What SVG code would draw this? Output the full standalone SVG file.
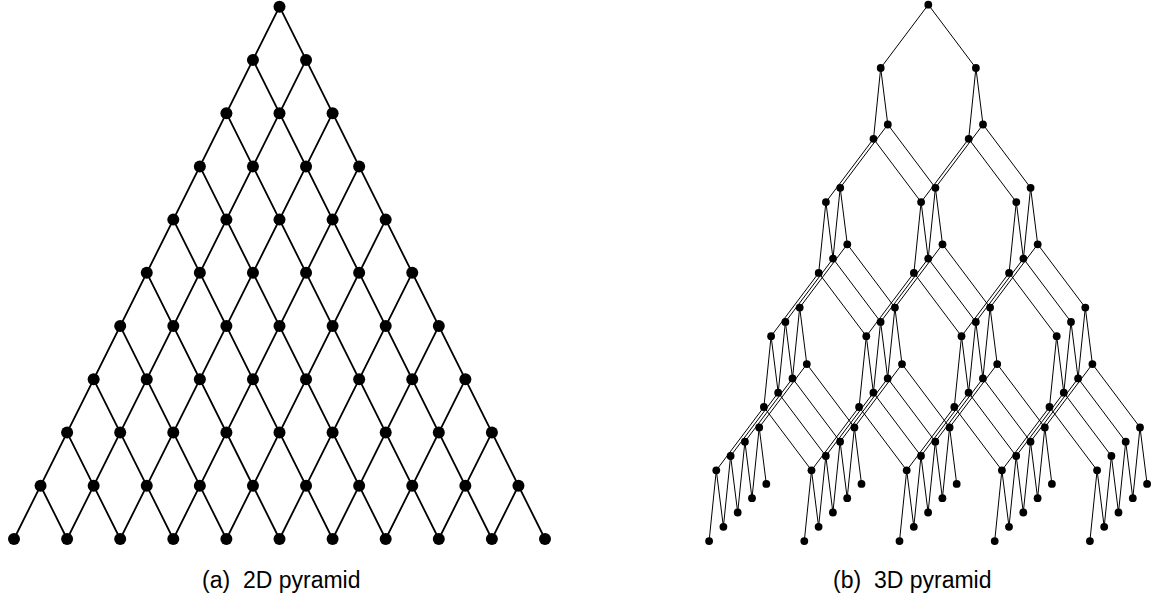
<svg xmlns="http://www.w3.org/2000/svg" width="1153" height="598" viewBox="0 0 1153 598">
<style>
.e2{fill:none;stroke:#000;stroke-width:1.8}
.e3{fill:none;stroke:#000;stroke-width:1}
.n2{fill:#000}
.n3{fill:#000}
.cap{font-family:"Liberation Sans",Arial,Helvetica,sans-serif;font-size:23px;fill:#000}
</style>
<rect width="1153" height="598" fill="#fff"/>
<g id="edges-2d" class="e2">
<path d="M279.5 6.7L14 539M306.05 59.93L67.1 539M332.6 113.16L120.2 539M359.15 166.39L173.3 539M385.7 219.62L226.4 539M412.25 272.85L279.5 539M438.8 326.08L332.6 539M465.35 379.31L385.7 539M491.9 432.54L438.8 539M518.45 485.77L491.9 539"/>
<path d="M279.5 6.7L545 539M252.95 59.93L491.9 539M226.4 113.16L438.8 539M199.85 166.39L385.7 539M173.3 219.62L332.6 539M146.75 272.85L279.5 539M120.2 326.08L226.4 539M93.65 379.31L173.3 539M67.1 432.54L120.2 539M40.55 485.77L67.1 539"/>
</g>
<g id="edges-3d" class="e3">
<polyline points="880.7,68 928.3,4.7 975.9,68"/>
<polyline points="825.9,202.1 873.5,138.8 921.1,202.1 968.7,138.8 1016.3,202.1"/>
<polyline points="840.2,187.8 887.8,124.5 935.4,187.8 983,124.5 1030.6,187.8"/>
<polyline points="771.1,336.2 818.7,272.9 866.3,336.2 913.9,272.9 961.5,336.2 1009.1,272.9 1056.7,336.2"/>
<polyline points="785.4,321.9 833,258.6 880.6,321.9 928.2,258.6 975.8,321.9 1023.4,258.6 1071,321.9"/>
<polyline points="799.7,307.6 847.3,244.3 894.9,307.6 942.5,244.3 990.1,307.6 1037.7,244.3 1085.3,307.6"/>
<polyline points="716.3,470.3 763.9,407 811.5,470.3 859.1,407 906.7,470.3 954.3,407 1001.9,470.3 1049.5,407 1097.1,470.3"/>
<polyline points="730.6,456 778.2,392.7 825.8,456 873.4,392.7 921,456 968.6,392.7 1016.2,456 1063.8,392.7 1111.4,456"/>
<polyline points="744.9,441.7 792.5,378.4 840.1,441.7 887.7,378.4 935.3,441.7 982.9,378.4 1030.5,441.7 1078.1,378.4 1125.7,441.7"/>
<polyline points="759.2,427.4 806.8,364.1 854.4,427.4 902,364.1 949.6,427.4 997.2,364.1 1044.8,427.4 1092.4,364.1 1140,427.4"/>
<polyline points="873.5,138.8 880.7,68 887.8,124.5"/>
<polyline points="968.7,138.8 975.9,68 983,124.5"/>
<polyline points="818.7,272.9 825.9,202.1 833,258.6 840.2,187.8 847.3,244.3"/>
<polyline points="913.9,272.9 921.1,202.1 928.2,258.6 935.4,187.8 942.5,244.3"/>
<polyline points="1009.1,272.9 1016.3,202.1 1023.4,258.6 1030.6,187.8 1037.7,244.3"/>
<polyline points="763.9,407 771.1,336.2 778.2,392.7 785.4,321.9 792.5,378.4 799.7,307.6 806.8,364.1"/>
<polyline points="859.1,407 866.3,336.2 873.4,392.7 880.6,321.9 887.7,378.4 894.9,307.6 902,364.1"/>
<polyline points="954.3,407 961.5,336.2 968.6,392.7 975.8,321.9 982.9,378.4 990.1,307.6 997.2,364.1"/>
<polyline points="1049.5,407 1056.7,336.2 1063.8,392.7 1071,321.9 1078.1,378.4 1085.3,307.6 1092.4,364.1"/>
<polyline points="709.1,541.1 716.3,470.3 723.4,526.8 730.6,456 737.7,512.5 744.9,441.7 752,498.2 759.2,427.4 766.3,483.9"/>
<polyline points="804.3,541.1 811.5,470.3 818.6,526.8 825.8,456 832.9,512.5 840.1,441.7 847.2,498.2 854.4,427.4 861.5,483.9"/>
<polyline points="899.5,541.1 906.7,470.3 913.8,526.8 921,456 928.1,512.5 935.3,441.7 942.4,498.2 949.6,427.4 956.7,483.9"/>
<polyline points="994.7,541.1 1001.9,470.3 1009,526.8 1016.2,456 1023.3,512.5 1030.5,441.7 1037.6,498.2 1044.8,427.4 1051.9,483.9"/>
<polyline points="1089.9,541.1 1097.1,470.3 1104.2,526.8 1111.4,456 1118.5,512.5 1125.7,441.7 1132.8,498.2 1140,427.4 1147.1,483.9"/>
</g>
<g id="nodes-2d" class="n2">
<g id="a0-0"><circle cx="279.5" cy="6.7" r="6"/></g>
<g id="a1-0"><circle cx="252.95" cy="59.93" r="6"/></g><g id="a1-1"><circle cx="306.05" cy="59.93" r="6"/></g>
<g id="a2-0"><circle cx="226.4" cy="113.16" r="6"/></g><g id="a2-1"><circle cx="279.5" cy="113.16" r="6"/></g><g id="a2-2"><circle cx="332.6" cy="113.16" r="6"/></g>
<g id="a3-0"><circle cx="199.85" cy="166.39" r="6"/></g><g id="a3-1"><circle cx="252.95" cy="166.39" r="6"/></g><g id="a3-2"><circle cx="306.05" cy="166.39" r="6"/></g><g id="a3-3"><circle cx="359.15" cy="166.39" r="6"/></g>
<g id="a4-0"><circle cx="173.3" cy="219.62" r="6"/></g><g id="a4-1"><circle cx="226.4" cy="219.62" r="6"/></g><g id="a4-2"><circle cx="279.5" cy="219.62" r="6"/></g><g id="a4-3"><circle cx="332.6" cy="219.62" r="6"/></g><g id="a4-4"><circle cx="385.7" cy="219.62" r="6"/></g>
<g id="a5-0"><circle cx="146.75" cy="272.85" r="6"/></g><g id="a5-1"><circle cx="199.85" cy="272.85" r="6"/></g><g id="a5-2"><circle cx="252.95" cy="272.85" r="6"/></g><g id="a5-3"><circle cx="306.05" cy="272.85" r="6"/></g><g id="a5-4"><circle cx="359.15" cy="272.85" r="6"/></g><g id="a5-5"><circle cx="412.25" cy="272.85" r="6"/></g>
<g id="a6-0"><circle cx="120.2" cy="326.08" r="6"/></g><g id="a6-1"><circle cx="173.3" cy="326.08" r="6"/></g><g id="a6-2"><circle cx="226.4" cy="326.08" r="6"/></g><g id="a6-3"><circle cx="279.5" cy="326.08" r="6"/></g><g id="a6-4"><circle cx="332.6" cy="326.08" r="6"/></g><g id="a6-5"><circle cx="385.7" cy="326.08" r="6"/></g><g id="a6-6"><circle cx="438.8" cy="326.08" r="6"/></g>
<g id="a7-0"><circle cx="93.65" cy="379.31" r="6"/></g><g id="a7-1"><circle cx="146.75" cy="379.31" r="6"/></g><g id="a7-2"><circle cx="199.85" cy="379.31" r="6"/></g><g id="a7-3"><circle cx="252.95" cy="379.31" r="6"/></g><g id="a7-4"><circle cx="306.05" cy="379.31" r="6"/></g><g id="a7-5"><circle cx="359.15" cy="379.31" r="6"/></g><g id="a7-6"><circle cx="412.25" cy="379.31" r="6"/></g><g id="a7-7"><circle cx="465.35" cy="379.31" r="6"/></g>
<g id="a8-0"><circle cx="67.1" cy="432.54" r="6"/></g><g id="a8-1"><circle cx="120.2" cy="432.54" r="6"/></g><g id="a8-2"><circle cx="173.3" cy="432.54" r="6"/></g><g id="a8-3"><circle cx="226.4" cy="432.54" r="6"/></g><g id="a8-4"><circle cx="279.5" cy="432.54" r="6"/></g><g id="a8-5"><circle cx="332.6" cy="432.54" r="6"/></g><g id="a8-6"><circle cx="385.7" cy="432.54" r="6"/></g><g id="a8-7"><circle cx="438.8" cy="432.54" r="6"/></g><g id="a8-8"><circle cx="491.9" cy="432.54" r="6"/></g>
<g id="a9-0"><circle cx="40.55" cy="485.77" r="6"/></g><g id="a9-1"><circle cx="93.65" cy="485.77" r="6"/></g><g id="a9-2"><circle cx="146.75" cy="485.77" r="6"/></g><g id="a9-3"><circle cx="199.85" cy="485.77" r="6"/></g><g id="a9-4"><circle cx="252.95" cy="485.77" r="6"/></g><g id="a9-5"><circle cx="306.05" cy="485.77" r="6"/></g><g id="a9-6"><circle cx="359.15" cy="485.77" r="6"/></g><g id="a9-7"><circle cx="412.25" cy="485.77" r="6"/></g><g id="a9-8"><circle cx="465.35" cy="485.77" r="6"/></g><g id="a9-9"><circle cx="518.45" cy="485.77" r="6"/></g>
<g id="a10-0"><circle cx="14" cy="539" r="6"/></g><g id="a10-1"><circle cx="67.1" cy="539" r="6"/></g><g id="a10-2"><circle cx="120.2" cy="539" r="6"/></g><g id="a10-3"><circle cx="173.3" cy="539" r="6"/></g><g id="a10-4"><circle cx="226.4" cy="539" r="6"/></g><g id="a10-5"><circle cx="279.5" cy="539" r="6"/></g><g id="a10-6"><circle cx="332.6" cy="539" r="6"/></g><g id="a10-7"><circle cx="385.7" cy="539" r="6"/></g><g id="a10-8"><circle cx="438.8" cy="539" r="6"/></g><g id="a10-9"><circle cx="491.9" cy="539" r="6"/></g><g id="a10-10"><circle cx="545" cy="539" r="6"/></g>
</g>
<g id="nodes-3d" class="n3">
<g id="b00-00"><circle cx="928.3" cy="4.7" r="3.9"/></g>
<g id="b10-00"><circle cx="880.7" cy="68" r="3.9"/></g><g id="b10-10"><circle cx="975.9" cy="68" r="3.9"/></g>
<g id="b11-00"><circle cx="873.5" cy="138.8" r="3.9"/></g><g id="b11-01"><circle cx="887.8" cy="124.5" r="3.9"/></g><g id="b11-10"><circle cx="968.7" cy="138.8" r="3.9"/></g><g id="b11-11"><circle cx="983" cy="124.5" r="3.9"/></g>
<g id="b21-00"><circle cx="825.9" cy="202.1" r="3.9"/></g><g id="b21-01"><circle cx="840.2" cy="187.8" r="3.9"/></g><g id="b21-10"><circle cx="921.1" cy="202.1" r="3.9"/></g><g id="b21-11"><circle cx="935.4" cy="187.8" r="3.9"/></g><g id="b21-20"><circle cx="1016.3" cy="202.1" r="3.9"/></g><g id="b21-21"><circle cx="1030.6" cy="187.8" r="3.9"/></g>
<g id="b22-00"><circle cx="818.7" cy="272.9" r="3.9"/></g><g id="b22-01"><circle cx="833" cy="258.6" r="3.9"/></g><g id="b22-02"><circle cx="847.3" cy="244.3" r="3.9"/></g><g id="b22-10"><circle cx="913.9" cy="272.9" r="3.9"/></g><g id="b22-11"><circle cx="928.2" cy="258.6" r="3.9"/></g><g id="b22-12"><circle cx="942.5" cy="244.3" r="3.9"/></g><g id="b22-20"><circle cx="1009.1" cy="272.9" r="3.9"/></g><g id="b22-21"><circle cx="1023.4" cy="258.6" r="3.9"/></g><g id="b22-22"><circle cx="1037.7" cy="244.3" r="3.9"/></g>
<g id="b32-00"><circle cx="771.1" cy="336.2" r="3.9"/></g><g id="b32-01"><circle cx="785.4" cy="321.9" r="3.9"/></g><g id="b32-02"><circle cx="799.7" cy="307.6" r="3.9"/></g><g id="b32-10"><circle cx="866.3" cy="336.2" r="3.9"/></g><g id="b32-11"><circle cx="880.6" cy="321.9" r="3.9"/></g><g id="b32-12"><circle cx="894.9" cy="307.6" r="3.9"/></g><g id="b32-20"><circle cx="961.5" cy="336.2" r="3.9"/></g><g id="b32-21"><circle cx="975.8" cy="321.9" r="3.9"/></g><g id="b32-22"><circle cx="990.1" cy="307.6" r="3.9"/></g><g id="b32-30"><circle cx="1056.7" cy="336.2" r="3.9"/></g><g id="b32-31"><circle cx="1071" cy="321.9" r="3.9"/></g><g id="b32-32"><circle cx="1085.3" cy="307.6" r="3.9"/></g>
<g id="b33-00"><circle cx="763.9" cy="407" r="3.9"/></g><g id="b33-01"><circle cx="778.2" cy="392.7" r="3.9"/></g><g id="b33-02"><circle cx="792.5" cy="378.4" r="3.9"/></g><g id="b33-03"><circle cx="806.8" cy="364.1" r="3.9"/></g><g id="b33-10"><circle cx="859.1" cy="407" r="3.9"/></g><g id="b33-11"><circle cx="873.4" cy="392.7" r="3.9"/></g><g id="b33-12"><circle cx="887.7" cy="378.4" r="3.9"/></g><g id="b33-13"><circle cx="902" cy="364.1" r="3.9"/></g><g id="b33-20"><circle cx="954.3" cy="407" r="3.9"/></g><g id="b33-21"><circle cx="968.6" cy="392.7" r="3.9"/></g><g id="b33-22"><circle cx="982.9" cy="378.4" r="3.9"/></g><g id="b33-23"><circle cx="997.2" cy="364.1" r="3.9"/></g><g id="b33-30"><circle cx="1049.5" cy="407" r="3.9"/></g><g id="b33-31"><circle cx="1063.8" cy="392.7" r="3.9"/></g><g id="b33-32"><circle cx="1078.1" cy="378.4" r="3.9"/></g><g id="b33-33"><circle cx="1092.4" cy="364.1" r="3.9"/></g>
<g id="b43-00"><circle cx="716.3" cy="470.3" r="3.9"/></g><g id="b43-01"><circle cx="730.6" cy="456" r="3.9"/></g><g id="b43-02"><circle cx="744.9" cy="441.7" r="3.9"/></g><g id="b43-03"><circle cx="759.2" cy="427.4" r="3.9"/></g>
<g id="b43-10"><circle cx="811.5" cy="470.3" r="3.9"/></g><g id="b43-11"><circle cx="825.8" cy="456" r="3.9"/></g><g id="b43-12"><circle cx="840.1" cy="441.7" r="3.9"/></g><g id="b43-13"><circle cx="854.4" cy="427.4" r="3.9"/></g>
<g id="b43-20"><circle cx="906.7" cy="470.3" r="3.9"/></g><g id="b43-21"><circle cx="921" cy="456" r="3.9"/></g><g id="b43-22"><circle cx="935.3" cy="441.7" r="3.9"/></g><g id="b43-23"><circle cx="949.6" cy="427.4" r="3.9"/></g>
<g id="b43-30"><circle cx="1001.9" cy="470.3" r="3.9"/></g><g id="b43-31"><circle cx="1016.2" cy="456" r="3.9"/></g><g id="b43-32"><circle cx="1030.5" cy="441.7" r="3.9"/></g><g id="b43-33"><circle cx="1044.8" cy="427.4" r="3.9"/></g>
<g id="b43-40"><circle cx="1097.1" cy="470.3" r="3.9"/></g><g id="b43-41"><circle cx="1111.4" cy="456" r="3.9"/></g><g id="b43-42"><circle cx="1125.7" cy="441.7" r="3.9"/></g><g id="b43-43"><circle cx="1140" cy="427.4" r="3.9"/></g>
<g id="b44-00"><circle cx="709.1" cy="541.1" r="3.9"/></g><g id="b44-01"><circle cx="723.4" cy="526.8" r="3.9"/></g><g id="b44-02"><circle cx="737.7" cy="512.5" r="3.9"/></g><g id="b44-03"><circle cx="752" cy="498.2" r="3.9"/></g><g id="b44-04"><circle cx="766.3" cy="483.9" r="3.9"/></g>
<g id="b44-10"><circle cx="804.3" cy="541.1" r="3.9"/></g><g id="b44-11"><circle cx="818.6" cy="526.8" r="3.9"/></g><g id="b44-12"><circle cx="832.9" cy="512.5" r="3.9"/></g><g id="b44-13"><circle cx="847.2" cy="498.2" r="3.9"/></g><g id="b44-14"><circle cx="861.5" cy="483.9" r="3.9"/></g>
<g id="b44-20"><circle cx="899.5" cy="541.1" r="3.9"/></g><g id="b44-21"><circle cx="913.8" cy="526.8" r="3.9"/></g><g id="b44-22"><circle cx="928.1" cy="512.5" r="3.9"/></g><g id="b44-23"><circle cx="942.4" cy="498.2" r="3.9"/></g><g id="b44-24"><circle cx="956.7" cy="483.9" r="3.9"/></g>
<g id="b44-30"><circle cx="994.7" cy="541.1" r="3.9"/></g><g id="b44-31"><circle cx="1009" cy="526.8" r="3.9"/></g><g id="b44-32"><circle cx="1023.3" cy="512.5" r="3.9"/></g><g id="b44-33"><circle cx="1037.6" cy="498.2" r="3.9"/></g><g id="b44-34"><circle cx="1051.9" cy="483.9" r="3.9"/></g>
<g id="b44-40"><circle cx="1089.9" cy="541.1" r="3.9"/></g><g id="b44-41"><circle cx="1104.2" cy="526.8" r="3.9"/></g><g id="b44-42"><circle cx="1118.5" cy="512.5" r="3.9"/></g><g id="b44-43"><circle cx="1132.8" cy="498.2" r="3.9"/></g><g id="b44-44"><circle cx="1147.1" cy="483.9" r="3.9"/></g>
</g>
<g id="captions" class="cap">
<text x="202" y="588" xml:space="preserve">(a)  2D pyramid</text>
<text x="833" y="588" xml:space="preserve">(b)  3D pyramid</text>
</g>
</svg>
